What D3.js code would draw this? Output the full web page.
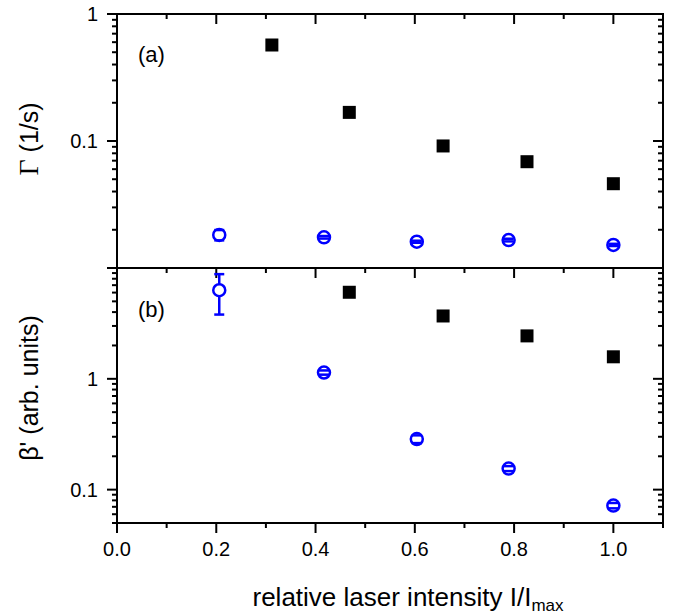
<!DOCTYPE html>
<html>
<head>
<meta charset="utf-8">
<script src="https://cdn.jsdelivr.net/npm/d3@7"></script>
<style>
body { margin: 0; background: #fff; }
text { font-family: "Liberation Sans", Arial, sans-serif; fill: #000; }
</style>
</head>
<body>
<div id="chart"></div>
<script>
// data
const xBlack = [0.312, 0.468, 0.657, 0.826, 1.0];
const xBlue = [0.206, 0.417, 0.604, 0.789, 1.0];
const gammaBlack = [0.57, 0.168, 0.0914, 0.0687, 0.0461];
const gammaBlue = [0.0182, 0.01745, 0.0161, 0.0166, 0.0152];
const gammaBlueErr = [0.0017, 0.0004, 0.0003, 0.0004, 0.0003];
const xBetaBlack = [0.468, 0.657, 0.826, 1.0];
const betaBlack = [6.04, 3.69, 2.44, 1.58];
const betaBlue = [6.3, 1.14, 0.286, 0.155, 0.0718];
const betaBlueErr = [2.5, 0.05, 0.023, 0.008, 0.004];

const xMajor = [0, 0.2, 0.4, 0.6, 0.8, 1.0];
const xMinor = [0.1, 0.3, 0.5, 0.7, 0.9, 1.1];
const gammaLabels = [1, 0.1];
const betaLabels = [1, 0.1];

const width = 677, height = 615;
const left = 117, right = 663;
const blue = "#0000ff";

const svg = d3.select("#chart").append("svg")
    .attr("width", width)
    .attr("height", height);

const x = d3.scaleLinear().domain([0, 1.1]).range([left, right]);
const yA = d3.scaleLog().domain([0.01, 1]).range([268, 14]);
const yB = d3.scaleLog().domain([0.05, 10]).range([523, 268]);

function logTicks(lo, hi) {
    const major = [], minor = [];
    for (let e = Math.floor(Math.log10(lo)); e <= Math.ceil(Math.log10(hi)); e++) {
        for (let m = 1; m < 10; m++) {
            const v = +(m * Math.pow(10, e)).toPrecision(6);
            if (v < lo * 0.999 || v > hi * 1.001) continue;
            (m === 1 ? major : minor).push(v);
        }
    }
    return { major: major, minor: minor };
}

///////////////////////////////////////////////////////////////////////////
//////////////////////////////// Axes /////////////////////////////////////
///////////////////////////////////////////////////////////////////////////

function tickGroup(g, scale, values, size, orient) {
    g.selectAll(null)
        .data(values)
        .enter().append("line")
        .attr("stroke", "#000")
        .attr("stroke-width", 2)
        .attr("x1", function(d) { return orient === "v" ? 0 : scale(d); })
        .attr("x2", function(d) { return orient === "v" ? size : scale(d); })
        .attr("y1", function(d) { return orient === "v" ? scale(d) : 0; })
        .attr("y2", function(d) { return orient === "v" ? scale(d) : size; });
}

function drawPanel(y, labels, top, bottom, showBottomLabels) {
    const t = logTicks(y.domain()[0], y.domain()[1]);

    // left: outward ticks
    const gl = svg.append("g").attr("transform", "translate(" + left + ",0)");
    tickGroup(gl, y, t.major, -10, "v");
    tickGroup(gl, y, t.minor, -5, "v");
    gl.selectAll(null)
        .data(labels)
        .enter().append("text")
        .attr("x", -19)
        .attr("y", function(d) { return y(d); })
        .attr("dy", "0.36em")
        .attr("text-anchor", "end")
        .style("font-size", "20px")
        .text(function(d) { return d; });

    // right: inward ticks
    const gr = svg.append("g").attr("transform", "translate(" + right + ",0)");
    tickGroup(gr, y, t.major, -10, "v");
    tickGroup(gr, y, t.minor, -5, "v");

    // top: inward ticks
    const gt = svg.append("g").attr("transform", "translate(0," + top + ")");
    tickGroup(gt, x, xMajor, 10, "h");
    tickGroup(gt, x, xMinor, 5, "h");

    if (showBottomLabels) {
        const gb = svg.append("g").attr("transform", "translate(0," + bottom + ")");
        tickGroup(gb, x, xMajor, 10, "h");
        tickGroup(gb, x, xMinor, 5, "h");
        gb.selectAll(null)
            .data(xMajor)
            .enter().append("text")
            .attr("x", function(d) { return x(d); })
            .attr("y", 33)
            .attr("text-anchor", "middle")
            .style("font-size", "20px")
            .text(d3.format(".1f"));
    }

    svg.append("rect")
        .attr("x", left)
        .attr("y", top)
        .attr("width", right - left)
        .attr("height", bottom - top)
        .attr("fill", "none")
        .attr("stroke", "#000")
        .attr("stroke-width", 2);
}

drawPanel(yA, gammaLabels, 14, 268, false);
drawPanel(yB, betaLabels, 268, 523, true);

///////////////////////////////////////////////////////////////////////////
//////////////////////////////// Points ///////////////////////////////////
///////////////////////////////////////////////////////////////////////////

function squares(xs, vs, y) {
    svg.append("g").selectAll("rect")
        .data(vs)
        .enter().append("rect")
        .attr("x", function(d, i) { return x(xs[i]) - 6.5; })
        .attr("y", function(d) { return y(d) - 6.5; })
        .attr("width", 13)
        .attr("height", 13)
        .attr("fill", "#000");
}

function circles(xs, vs, errs, y) {
    const r = 6;
    const g = svg.append("g");
    const pts = vs.map(function(v, i) {
        return { cx: x(xs[i]), cy: y(v), yt: y(v + errs[i]), yb: y(v - errs[i]) };
    });
    g.selectAll("circle")
        .data(pts)
        .enter().append("circle")
        .attr("cx", function(d) { return d.cx; })
        .attr("cy", function(d) { return d.cy; })
        .attr("r", r)
        .attr("fill", "#fff")
        .attr("stroke", blue)
        .attr("stroke-width", 2.5);
    pts.forEach(function(d) {
        if (d.yt < d.cy - r) {
            g.append("line").attr("x1", d.cx).attr("x2", d.cx)
                .attr("y1", d.yt).attr("y2", d.cy - r)
                .attr("stroke", blue).attr("stroke-width", 2.5);
        }
        if (d.yb > d.cy + r) {
            g.append("line").attr("x1", d.cx).attr("x2", d.cx)
                .attr("y1", d.cy + r).attr("y2", d.yb)
                .attr("stroke", blue).attr("stroke-width", 2.5);
        }
        [d.yt, d.yb].forEach(function(yy) {
            g.append("line").attr("x1", d.cx - 5).attr("x2", d.cx + 5)
                .attr("y1", yy).attr("y2", yy)
                .attr("stroke", blue).attr("stroke-width", 2.5);
        });
    });
}

squares(xBlack, gammaBlack, yA);
circles(xBlue, gammaBlue, gammaBlueErr, yA);
squares(xBetaBlack, betaBlack, yB);
circles(xBlue, betaBlue, betaBlueErr, yB);

///////////////////////////////////////////////////////////////////////////
//////////////////////////////// Labels ///////////////////////////////////
///////////////////////////////////////////////////////////////////////////

svg.append("text").attr("x", 138).attr("y", 62).style("font-size", "22px").text("(a)");
svg.append("text").attr("x", 138).attr("y", 317).style("font-size", "22px").text("(b)");

const ta = svg.append("text")
    .attr("transform", "translate(38,139) rotate(-90)")
    .attr("text-anchor", "middle")
    .style("font-size", "25px");
ta.append("tspan").style("font-family", "'Liberation Serif', serif").style("font-size", "28px").text("\u0393");
ta.append("tspan").text(" (1/s)");

svg.append("text")
    .attr("transform", "translate(38,388) rotate(-90)")
    .attr("text-anchor", "middle")
    .style("font-size", "25px")
    .text("\u03b2' (arb. units)");

const tx = svg.append("text")
    .attr("x", 408)
    .attr("y", 606)
    .attr("text-anchor", "middle")
    .style("font-size", "26px");
tx.append("tspan").text("relative laser intensity I/I");
tx.append("tspan").attr("dy", 5).style("font-size", "17px").text("max");
</script>
</body>
</html>
